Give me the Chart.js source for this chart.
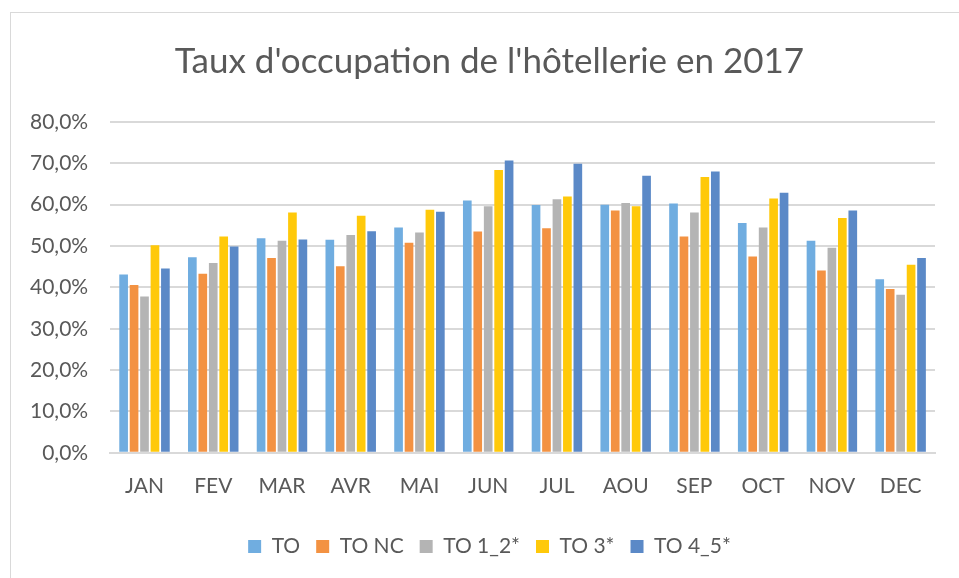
<!DOCTYPE html>
<html>
<head>
<meta charset="utf-8">
<script src="https://cdn.jsdelivr.net/npm/chart.js@4/dist/chart.umd.min.js"></script>
<style>
    body { margin: 0; background: #fff; }
    #wrap { position: relative; width: 959px; height: 578px; }
    #frame { position: absolute; left: 10px; top: 12px; width: 980px; height: 600px; border: 1px solid #d9d9d9; pointer-events: none; }
</style>
</head>
<body>
<div id="wrap">
    <canvas id="chart" width="959" height="578"></canvas>
    <div id="frame"></div>
</div>
<script>
const months = ['JAN', 'FEV', 'MAR', 'AVR', 'MAI', 'JUN', 'JUL', 'AOU', 'SEP', 'OCT', 'NOV', 'DEC'];
const to     = [43.1, 47.3, 51.9, 51.5, 54.5, 61.0, 59.9, 60.0, 60.3, 55.6, 51.3, 42.0];
const toNc   = [40.6, 43.3, 47.1, 45.1, 50.8, 53.5, 54.3, 58.6, 52.3, 47.5, 44.1, 39.6];
const to12   = [37.8, 45.9, 51.3, 52.7, 53.3, 59.6, 61.3, 60.4, 58.1, 54.5, 49.6, 38.2];
const to3    = [50.2, 52.3, 58.1, 57.3, 58.8, 68.4, 62.0, 59.6, 66.7, 61.5, 56.8, 45.5];
const to45   = [44.6, 49.9, 51.6, 53.6, 58.3, 70.7, 69.9, 67.0, 68.0, 62.9, 58.6, 47.1];
const yTicks = [0, 10, 20, 30, 40, 50, 60, 70, 80];

const textColor = '#595959';
const font = 'Lato, "Open Sans", sans-serif';

const series = [
    { label: 'TO', data: to, color: '#70ade0' },
    { label: 'TO NC', data: toNc, color: '#f39242' },
    { label: 'TO 1_2*', data: to12, color: '#b4b4b4' },
    { label: 'TO 3*', data: to3, color: '#ffc90a' },
    { label: 'TO 4_5*', data: to45, color: '#5b89c7' },
];

// nudge title and legend to the right, like the excel chart
const shiftBlocks = {
    id: 'shiftBlocks',
    afterLayout(chart) {
        chart.titleBlock.left += 18;
        chart.titleBlock.right += 18;
        chart.legend.left += 18;
        chart.legend.right += 18;
    },
};

new Chart(document.getElementById('chart'), {
    type: 'bar',
    data: {
        labels: months,
        datasets: series.map(s => ({
            label: s.label,
            data: s.data,
            backgroundColor: s.color,
            borderWidth: 0,
            categoryPercentage: 0.76,
            barPercentage: 0.83,
        })),
    },
    options: {
        responsive: false,
        animation: false,
        layout: { padding: { left: 8, right: 24, top: 30, bottom: 11 } },
        plugins: {
            title: {
                display: true,
                text: "Taux d'occupation de l'hôtellerie en 2017",
                color: textColor,
                font: { family: font, size: 35, weight: 'normal' },
                padding: { top: 11, bottom: 39 },
            },
            legend: {
                position: 'bottom',
                labels: {
                    color: textColor,
                    font: { family: font, size: 21 },
                    boxWidth: 13,
                    boxHeight: 13,
                    padding: 16,
                },
            },
            tooltip: { enabled: false },
        },
        scales: {
            x: {
                grid: { display: false, drawTicks: false },
                border: { color: '#d9d9d9', width: 2 },
                ticks: { color: textColor, font: { family: font, size: 21 }, padding: 21 },
            },
            y: {
                min: 0,
                max: 80,
                afterBuildTicks: axis => { axis.ticks = yTicks.map(v => ({ value: v })); },
                grid: { color: '#d9d9d9', lineWidth: 2, drawTicks: false },
                border: { display: false },
                ticks: {
                    color: textColor,
                    font: { family: font, size: 21 },
                    padding: 22,
                    callback: v => v.toFixed(1).replace('.', ',') + '%',
                },
            },
        },
    },
    plugins: [shiftBlocks],
});
</script>
</body>
</html>
